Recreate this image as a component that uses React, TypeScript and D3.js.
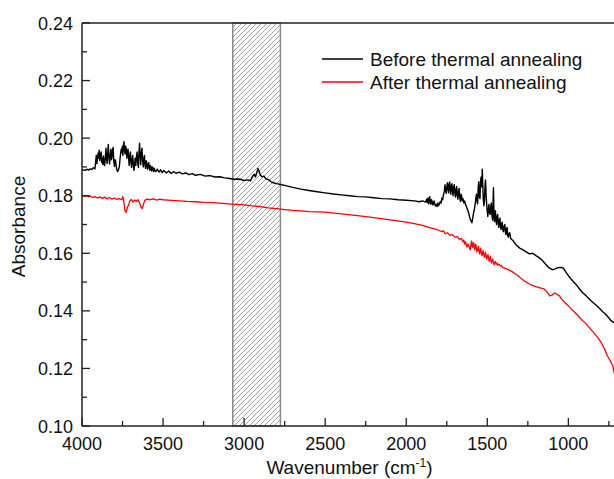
import React from "react";
import * as d3 from "d3";

// ---------- data ----------
const beforeWavenumber = [
  4000, 3990, 3980, 3970, 3960, 3950, 3940, 3930, 3920, 3916, 3912, 3908, 3905, 3901, 3898, 3894, 3890, 3886, 3882, 3878, 3875, 3871, 3868, 3864, 3860, 3856, 3852, 3848, 3845, 3841, 3838, 3834, 3830, 3826, 3822, 3818, 3815, 3811, 3808, 3804, 3800, 3796, 3792, 3788, 3785, 3781, 3778, 3774, 3770, 3766, 3762, 3758, 3755, 3751, 3748, 3744, 3741, 3737, 3734, 3730, 3727, 3723, 3720, 3716, 3712, 3709, 3705, 3701, 3698, 3694, 3690, 3687, 3683, 3679, 3676, 3672, 3668, 3664, 3660, 3656, 3652, 3649, 3645, 3641, 3638, 3634, 3630, 3626, 3622, 3618, 3615, 3611, 3608, 3604, 3600, 3596, 3592, 3588, 3585, 3581, 3578, 3574, 3570, 3566, 3562, 3558, 3555, 3550, 3545, 3535, 3525, 3515, 3505, 3495, 3480, 3465, 3450, 3435, 3420, 3400, 3380, 3360, 3340, 3320, 3300, 3270, 3240, 3210, 3180, 3150, 3120, 3090, 3060, 3030, 3000, 2975, 2960, 2948, 2938, 2930, 2922, 2915, 2908, 2900, 2890, 2878, 2865, 2850, 2835, 2820, 2800, 2775, 2750, 2700, 2650, 2600, 2550, 2500, 2450, 2400, 2350, 2300, 2250, 2200, 2150, 2100, 2050, 2000, 1950, 1920, 1900, 1880, 1874, 1870, 1866, 1862, 1858, 1855, 1851, 1848, 1844, 1840, 1836, 1832, 1828, 1825, 1820, 1815, 1810, 1805, 1800, 1795, 1790, 1785, 1780, 1775, 1770, 1765, 1761, 1758, 1754, 1750, 1746, 1743, 1739, 1736, 1732, 1729, 1725, 1722, 1718, 1715, 1711, 1708, 1704, 1700, 1696, 1692, 1689, 1685, 1681, 1678, 1674, 1670, 1666, 1662, 1658, 1655, 1650, 1645, 1640, 1635, 1630, 1625, 1620, 1615, 1610, 1605, 1600, 1595, 1590, 1585, 1580, 1575, 1571, 1567, 1563, 1560, 1556, 1553, 1549, 1545, 1542, 1538, 1534, 1531, 1528, 1525, 1521, 1518, 1514, 1511, 1507, 1504, 1500, 1497, 1493, 1490, 1486, 1482, 1478, 1475, 1471, 1467, 1464, 1462, 1459, 1456, 1453, 1450, 1446, 1443, 1439, 1436, 1432, 1429, 1425, 1422, 1418, 1415, 1411, 1408, 1404, 1400, 1396, 1392, 1388, 1385, 1381, 1378, 1374, 1370, 1366, 1362, 1356, 1350, 1342, 1335, 1328, 1320, 1300, 1280, 1260, 1240, 1220, 1200, 1180, 1160, 1140, 1120, 1100, 1085, 1065, 1045, 1030, 1010, 990, 970, 950, 930, 910, 890, 870, 850, 830, 810, 790, 770, 750, 735, 716, 700,
];
const beforeAbsorbance = [
  0.1888, 0.189, 0.1888, 0.1892, 0.1889, 0.1893, 0.1891, 0.1897, 0.1893, 0.1915, 0.194, 0.1912, 0.1925, 0.1948, 0.193, 0.1958, 0.1922, 0.194, 0.1952, 0.1915, 0.193, 0.1908, 0.1938, 0.1915, 0.1905, 0.1935, 0.1965, 0.1925, 0.1912, 0.195, 0.1978, 0.1932, 0.191, 0.194, 0.1962, 0.1925, 0.1935, 0.196, 0.1968, 0.192, 0.1902, 0.1925, 0.1918, 0.1898, 0.189, 0.1884, 0.1886, 0.1892, 0.19, 0.1925, 0.1945, 0.1962, 0.195, 0.1972, 0.194, 0.1975, 0.1988, 0.1955, 0.1945, 0.1972, 0.196, 0.193, 0.1948, 0.1962, 0.1928, 0.1905, 0.194, 0.1952, 0.1915, 0.1898, 0.193, 0.194, 0.1905, 0.1888, 0.1912, 0.193, 0.1905, 0.1935, 0.1952, 0.1912, 0.1898, 0.1945, 0.1982, 0.1935, 0.1908, 0.195, 0.1965, 0.192, 0.19, 0.1928, 0.194, 0.1905, 0.1895, 0.1922, 0.1912, 0.1892, 0.1908, 0.1915, 0.1895, 0.1888, 0.1905, 0.1898, 0.1886, 0.19, 0.189, 0.1884, 0.1896, 0.1887, 0.1884, 0.1892, 0.1882, 0.189, 0.188, 0.1888, 0.1879, 0.1886, 0.1877, 0.1884, 0.1878, 0.1882, 0.1876, 0.1879, 0.1873, 0.1877, 0.1871, 0.1874, 0.1868, 0.187, 0.1865, 0.1866, 0.1862, 0.186, 0.1857, 0.1858, 0.1853, 0.1855, 0.1852, 0.1868, 0.1875, 0.1865, 0.188, 0.1895, 0.1885, 0.1872, 0.1866, 0.1868, 0.1858, 0.1856, 0.1849, 0.1845, 0.1842, 0.1839, 0.1836, 0.1829, 0.1823, 0.1818, 0.1814, 0.181, 0.1806, 0.1803, 0.18, 0.1797, 0.1796, 0.1793, 0.179, 0.1789, 0.1786, 0.1784, 0.1782, 0.1779, 0.1782, 0.1778, 0.1788, 0.1776, 0.1792, 0.1772, 0.179, 0.1797, 0.1774, 0.177, 0.1786, 0.178, 0.1768, 0.1772, 0.1782, 0.1774, 0.1764, 0.177, 0.1762, 0.1775, 0.1766, 0.1772, 0.178, 0.1774, 0.1792, 0.1786, 0.1805, 0.1815, 0.1838, 0.182, 0.1808, 0.183, 0.1845, 0.1822, 0.181, 0.184, 0.1848, 0.182, 0.1805, 0.1835, 0.1842, 0.1815, 0.18, 0.1828, 0.1838, 0.1808, 0.1795, 0.1825, 0.1832, 0.18, 0.1788, 0.1815, 0.1825, 0.1795, 0.178, 0.1805, 0.1798, 0.1782, 0.179, 0.1775, 0.1782, 0.177, 0.1765, 0.1755, 0.175, 0.174, 0.1728, 0.1718, 0.1712, 0.1706, 0.1722, 0.174, 0.1752, 0.177, 0.179, 0.1805, 0.178, 0.1772, 0.183, 0.1848, 0.1795, 0.179, 0.185, 0.1865, 0.183, 0.1892, 0.184, 0.179, 0.1765, 0.178, 0.1835, 0.1855, 0.18, 0.177, 0.1745, 0.1728, 0.1755, 0.177, 0.174, 0.1735, 0.1765, 0.1775, 0.173, 0.1715, 0.179, 0.1828, 0.174, 0.171, 0.1735, 0.1748, 0.1712, 0.17, 0.1728, 0.1735, 0.17, 0.169, 0.1715, 0.1722, 0.169, 0.1683, 0.1702, 0.1708, 0.168, 0.1675, 0.1695, 0.17, 0.1672, 0.1665, 0.1684, 0.169, 0.1662, 0.1656, 0.1668, 0.1672, 0.1652, 0.1648, 0.1645, 0.1638, 0.1634, 0.1628, 0.1618, 0.1612, 0.1605, 0.1598, 0.16, 0.1592, 0.1585, 0.1575, 0.1562, 0.155, 0.1543, 0.1545, 0.155, 0.1551, 0.1548, 0.153, 0.1515, 0.1502, 0.149, 0.1475, 0.1462, 0.1452, 0.144, 0.143, 0.142, 0.141, 0.1398, 0.1388, 0.1375, 0.1365, 0.1358, 0.1352,
];

const afterWavenumber = [
  4000, 3995, 3980, 3970, 3960, 3950, 3935, 3920, 3905, 3890, 3875, 3860, 3845, 3830, 3815, 3800, 3785, 3770, 3755, 3748, 3742, 3735, 3728, 3720, 3712, 3705, 3695, 3685, 3675, 3665, 3655, 3645, 3635, 3628, 3620, 3612, 3600, 3580, 3560, 3540, 3520, 3500, 3450, 3400, 3350, 3300, 3250, 3200, 3150, 3100, 3050, 3000, 2950, 2900, 2850, 2800, 2750, 2700, 2650, 2600, 2550, 2500, 2400, 2300, 2200, 2100, 2000, 1950, 1900, 1850, 1820, 1800, 1780, 1770, 1760, 1745, 1730, 1715, 1700, 1685, 1670, 1660, 1655, 1650, 1645, 1640, 1636, 1632, 1628, 1625, 1620, 1615, 1610, 1605, 1601, 1597, 1594, 1590, 1586, 1582, 1578, 1575, 1571, 1568, 1564, 1560, 1556, 1552, 1548, 1545, 1541, 1538, 1534, 1530, 1526, 1522, 1518, 1515, 1511, 1508, 1504, 1500, 1496, 1492, 1488, 1485, 1481, 1478, 1474, 1470, 1466, 1462, 1458, 1455, 1450, 1445, 1440, 1435, 1428, 1420, 1412, 1405, 1390, 1370, 1350, 1330, 1310, 1290, 1270, 1250, 1230, 1200, 1175, 1150, 1130, 1115, 1100, 1085, 1070, 1055, 1040, 1020, 1000, 980, 960, 940, 920, 900, 880, 860, 840, 820, 800, 780, 760, 740, 725, 716, 700,
];
const afterAbsorbance = [
  0.1798, 0.18, 0.1797, 0.1801, 0.1796, 0.1799, 0.1794, 0.1797, 0.1792, 0.1796, 0.179, 0.1795, 0.1789, 0.1794, 0.1788, 0.1792, 0.1787, 0.179, 0.1786, 0.1797, 0.178, 0.1748, 0.1742, 0.176, 0.1768, 0.1782, 0.1787, 0.1778, 0.1785, 0.178, 0.1786, 0.1775, 0.176, 0.1755, 0.1772, 0.1784, 0.1788, 0.1786, 0.1789, 0.1785, 0.1788, 0.1786, 0.1784, 0.1782, 0.178, 0.1779, 0.1777, 0.1776, 0.1774, 0.1772, 0.177, 0.1768, 0.1765, 0.1762, 0.1758, 0.1755, 0.1752, 0.1749, 0.1747, 0.1745, 0.1744, 0.1743, 0.1737, 0.1731, 0.1724, 0.1716, 0.1708, 0.1703, 0.1697, 0.1688, 0.1684, 0.168, 0.1675, 0.1678, 0.1668, 0.1671, 0.1662, 0.1665, 0.1656, 0.1658, 0.1648, 0.1652, 0.1645, 0.164, 0.1646, 0.1632, 0.164, 0.1636, 0.1625, 0.1622, 0.1632, 0.1626, 0.1618, 0.1612, 0.163, 0.1642, 0.1625, 0.162, 0.1638, 0.1632, 0.1612, 0.1618, 0.1632, 0.162, 0.1605, 0.161, 0.1625, 0.1612, 0.1598, 0.1602, 0.1618, 0.1606, 0.1592, 0.1596, 0.161, 0.1598, 0.1586, 0.1592, 0.1604, 0.159, 0.158, 0.1588, 0.1596, 0.1582, 0.1572, 0.158, 0.159, 0.1576, 0.1566, 0.1574, 0.158, 0.1568, 0.156, 0.1566, 0.1572, 0.1562, 0.1566, 0.1558, 0.1562, 0.1556, 0.1558, 0.155, 0.1548, 0.1543, 0.1537, 0.153, 0.1522, 0.1512, 0.1503, 0.1497, 0.149, 0.1484, 0.148, 0.1476, 0.1465, 0.1452, 0.1455, 0.1462, 0.1458, 0.1452, 0.144, 0.1428, 0.1418, 0.1405, 0.1395, 0.1383, 0.137, 0.136, 0.1348, 0.1335, 0.1322, 0.1308, 0.1292, 0.1272, 0.1245, 0.1225, 0.1208, 0.118,
];

const xTicks = [4000, 3500, 3000, 2500, 2000, 1500, 1000];
const xMinorTicks = [3750, 3250, 2750, 2250, 1750, 1250, 750];
const yTicks = [0.1, 0.12, 0.14, 0.16, 0.18, 0.2, 0.22, 0.24];
const yMinorTicks = [0.11, 0.13, 0.15, 0.17, 0.19, 0.21, 0.23];
const hatchBand = [3070, 2776];
const seriesLabels = ["Before thermal annealing", "After thermal annealing"];
const seriesColors = ["#000000", "#ff0000"];

// ---------- layout ----------
const W = 614;
const H = 479;
const M = { left: 82, top: 23, right: 617, bottom: 426 };
const FONT = "'Liberation Sans', Arial, sans-serif";

export default function App() {
  const x = d3.scaleLinear().domain([4000, 700]).range([M.left, M.right]);
  const y = d3.scaleLinear().domain([0.1, 0.24]).range([M.bottom, M.top]);

  const line = d3
    .line<[number, number]>()
    .x((d) => x(d[0]))
    .y((d) => y(d[1]));

  const before: [number, number][] = beforeWavenumber.map((w, i) => [w, beforeAbsorbance[i]]);
  const after: [number, number][] = afterWavenumber.map((w, i) => [w, afterAbsorbance[i]]);

  const axisColor = "#222";
  const bx0 = x(hatchBand[0]);
  const bx1 = x(hatchBand[1]);

  return (
    <svg
      width={W}
      height={H}
      style={{ position: "absolute", left: 0, top: 0, background: "#fff" }}
      fontFamily={FONT}
    >
      <defs>
        <pattern id="hatch" patternUnits="userSpaceOnUse" width={5} height={5}>
          <path d="M-1,1 l2,-2 M0,5 l5,-5 M4,6 l2,-2" stroke="#888" strokeWidth={0.8} />
        </pattern>
        <clipPath id="plotClip">
          <rect x={M.left} y={M.top} width={M.right - M.left} height={M.bottom - M.top} />
        </clipPath>
      </defs>
      <rect x={0} y={0} width={W} height={H} fill="#fff" />

      {/* hatched band */}
      <rect
        x={bx0}
        y={M.top}
        width={bx1 - bx0}
        height={M.bottom - M.top}
        fill="url(#hatch)"
        stroke="#888"
        strokeWidth={1.5}
      />

      {/* series */}
      <g clipPath="url(#plotClip)">
        <path d={line(before) || ""} fill="none" stroke={seriesColors[0]} strokeWidth={1.4} strokeLinejoin="round" />
        <path d={line(after) || ""} fill="none" stroke={seriesColors[1]} strokeWidth={1.3} strokeLinejoin="round" />
      </g>

      {/* frame */}
      <line x1={M.left} x2={W} y1={M.top} y2={M.top} stroke={axisColor} strokeWidth={1.5} />
      <line x1={M.left} x2={W} y1={M.bottom} y2={M.bottom} stroke={axisColor} strokeWidth={1.5} />
      <line x1={M.left} x2={M.left} y1={M.top} y2={M.bottom} stroke={axisColor} strokeWidth={1.5} />

      {/* x ticks */}
      {xTicks.map((t) => (
        <g key={"xt" + t}>
          <line x1={x(t)} x2={x(t)} y1={M.bottom} y2={M.bottom - 8} stroke={axisColor} strokeWidth={1.3} />
          <text x={x(t)} y={M.bottom + 24} fontSize={18} textAnchor="middle" fill="#111">
            {t}
          </text>
        </g>
      ))}
      {xMinorTicks.map((t) => (
        <line key={"xm" + t} x1={x(t)} x2={x(t)} y1={M.bottom} y2={M.bottom - 5} stroke={axisColor} strokeWidth={1.3} />
      ))}

      {/* y ticks */}
      {yTicks.map((t) => (
        <g key={"yt" + t}>
          <line x1={M.left} x2={M.left + 8} y1={y(t)} y2={y(t)} stroke={axisColor} strokeWidth={1.3} />
          <text x={M.left - 9} y={y(t) + 6.5} fontSize={18} textAnchor="end" fill="#111">
            {t.toFixed(2)}
          </text>
        </g>
      ))}
      {yMinorTicks.map((t) => (
        <line key={"ym" + t} x1={M.left} x2={M.left + 5} y1={y(t)} y2={y(t)} stroke={axisColor} strokeWidth={1.3} />
      ))}

      {/* axis titles */}
      <text x={(M.left + M.right) / 2} y={474} fontSize={19} textAnchor="middle" fill="#111">
        Wavenumber (cm
        <tspan fontSize={12} dy={-7}>-1</tspan>
        <tspan dy={7}>)</tspan>
      </text>
      <text
        transform={`translate(25, ${(M.top + M.bottom) / 2 + 2}) rotate(-90)`}
        fontSize={19}
        textAnchor="middle"
        fill="#111"
      >
        Absorbance
      </text>

      {/* legend */}
      {seriesLabels.map((s, i) => (
        <g key={s} transform={`translate(0, ${59 + i * 23})`}>
          <line x1={322} x2={363} y1={0} y2={0} stroke={seriesColors[i]} strokeWidth={1.3} />
          <text x={370} y={6.8} fontSize={19} fill="#111">
            {s}
          </text>
        </g>
      ))}
    </svg>
  );
}
